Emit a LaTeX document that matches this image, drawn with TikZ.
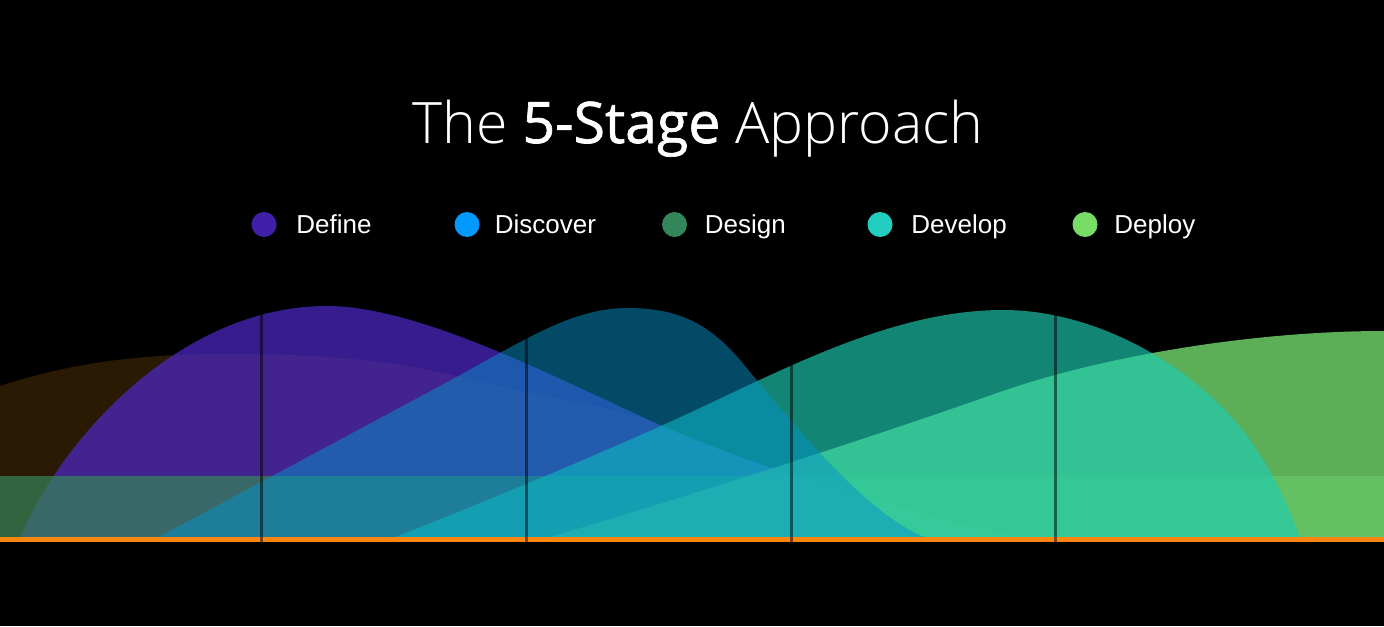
\documentclass[tikz,border=0pt]{standalone}
\usepackage{fontspec}
\setmainfont{Liberation Sans}
\IfFontExistsTF{Open Sans Light}{%
  \newfontfamily\titlefont{Open Sans Light}}{%
  \newfontfamily\titlefont{Open Sans}}
\IfFontExistsTF{Open Sans SemiBold}{%
  \newfontfamily\titlebold{Open Sans SemiBold}}{%
  \newfontfamily\titlebold{Open Sans}[FakeBold=1.2]}
\definecolor{cBrown}{RGB}{255,158,30}
\definecolor{cPurple}{RGB}{79,41,203}
\definecolor{cBand}{RGB}{54,134,89}
\definecolor{cDeploy}{RGB}{115,218,109}
\definecolor{cTeal}{RGB}{29,205,180}
\definecolor{cDisc}{RGB}{4,148,204}
\definecolor{cOrange}{RGB}{250,133,15}
\definecolor{lDefine}{RGB}{64,32,168}
\definecolor{lDiscover}{RGB}{0,153,255}
\definecolor{lDesign}{RGB}{51,133,90}
\definecolor{lDevelop}{RGB}{32,207,192}
\definecolor{lDeploy}{RGB}{119,221,102}
\begin{document}
\begin{tikzpicture}[x=0.5pt,y=-0.5pt,
  dot/.style={circle,minimum size=12.5pt,inner sep=0pt},
  legtext/.style={anchor=base west,inner sep=0pt,text=white,font=\fontsize{13}{15}\selectfont},
  divider/.style={black,opacity=0.5,line width=1.5pt}]
\fill[black] (0,0) rectangle (1384,626);
\useasboundingbox (0,0) rectangle (1384,626);
% title
\node[anchor=base,text=white,inner sep=0pt,font=\titlefont\fontsize{28.6}{33}\selectfont] (title) at (698,143) {The {\titlebold 5-Stage} Approach};
% legend
\node[dot,fill=lDefine] (d1) at (264,224.5) {};
\node[legtext] (t1) at (296,233) {Define};
\node[dot,fill=lDiscover] (d2) at (467,224.5) {};
\node[legtext] (t2) at (494.5,233) {Discover};
\node[dot,fill=lDesign] (d3) at (674.5,224.5) {};
\node[legtext] (t3) at (704.5,233) {Design};
\node[dot,fill=lDevelop] (d4) at (880,224.5) {};
\node[legtext] (t4) at (911,233) {Develop};
\node[dot,fill=lDeploy] (d5) at (1085,224.5) {};
\node[legtext] (t5) at (1114,233) {Deploy};
% areas
\fill[cBrown,opacity=0.165] (0,386) .. controls (80,360) and (150,354) .. (230,354)
  .. controls (330,354) and (400,362) .. (460,377)
  .. controls (540,397) and (610,405) .. (660,425)
  .. controls (760,470) and (960,530) .. (1040,539) -- (0,539) -- cycle;
\fill[cPurple,opacity=0.7] (20,539) .. controls (60,440) and (180,306) .. (327,306)
  .. controls (420,306) and (560,380) .. (660,425)
  .. controls (760,470) and (960,530) .. (1040,539) -- cycle;
\fill[cBand,opacity=0.7] (0,476) rectangle (1384,539);
\fill[cDeploy,opacity=0.8] (543,539) .. controls (650,508) and (850,445) .. (1000,392)
  .. controls (1100,357) and (1250,331) .. (1384,331) -- (1384,539) -- cycle;
\fill[cTeal,opacity=0.65] (390,539) .. controls (440,520) and (600,455) .. (700,408)
  .. controls (800,361) and (900,310) .. (1003,310)
  .. controls (1100,310) and (1200,370) .. (1250,440)
  .. controls (1275,475) and (1290,510) .. (1300,539) -- cycle;
\fill[cDisc,opacity=0.5] (155,539) -- (440,386) .. controls (520,343) and (570,308) .. (627,308)
  .. controls (680,308) and (710,325) .. (740,360)
  .. controls (790,420) and (870,520) .. (930,539) -- cycle;
% baseline
\fill[cOrange] (0,536.5) rectangle (1384,541.5);
% dividers
\coordinate (v1t) at (261,314); \coordinate (v1b) at (261,541.5);
\coordinate (v2t) at (526,337); \coordinate (v2b) at (526,541.5);
\coordinate (v3t) at (791,363); \coordinate (v3b) at (791,541.5);
\coordinate (v4t) at (1055,315); \coordinate (v4b) at (1055,541.5);
\draw[divider] (v1t) -- (v1b);
\draw[divider] (v2t) -- (v2b);
\draw[divider] (v3t) -- (v3b);
\draw[divider] (v4t) -- (v4b);
\end{tikzpicture}
\end{document}
